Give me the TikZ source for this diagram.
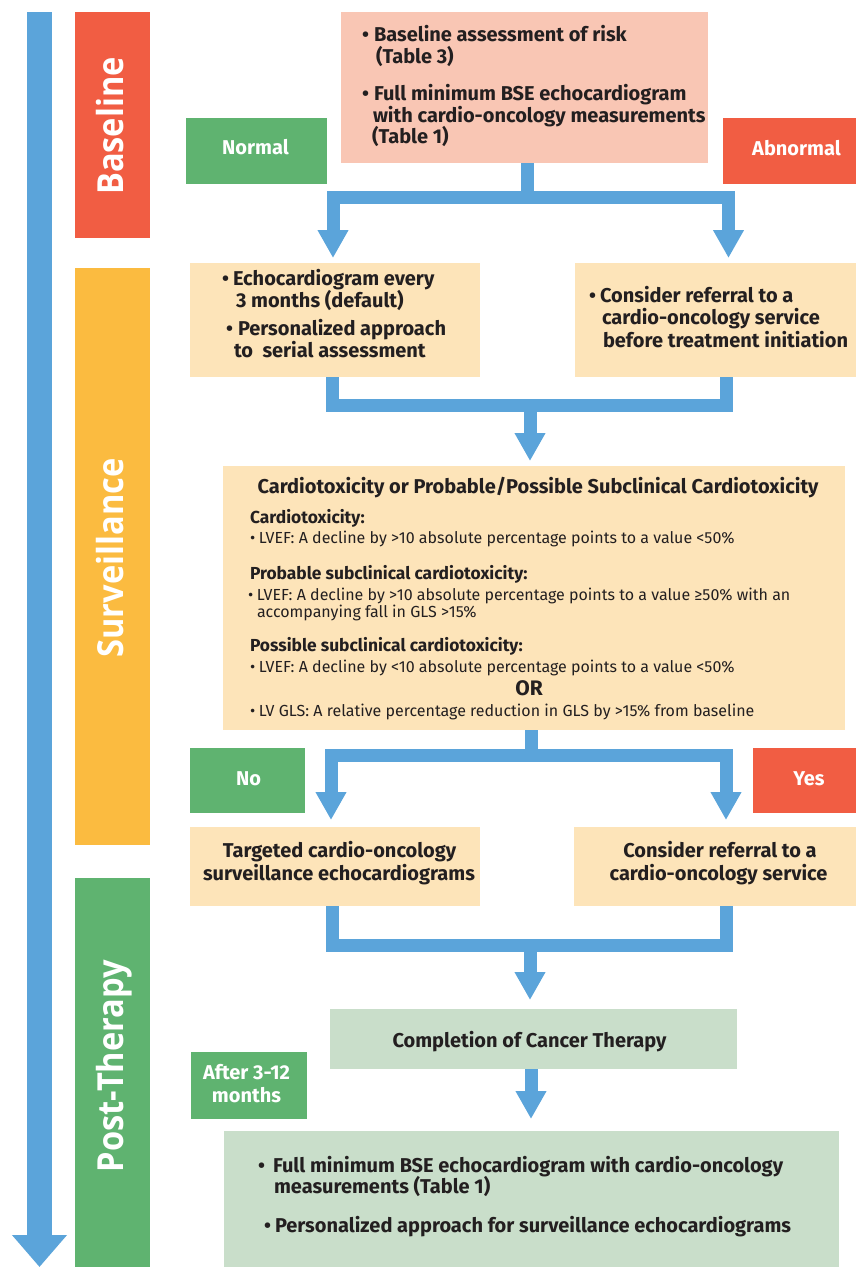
\documentclass[tikz,border=0pt]{standalone}
\usepackage{fontspec}
\usepackage{graphicx}
\setmainfont{Fira Sans}
\newfontfamily\labfont{Open Sans}
\usetikzlibrary{arrows.meta}
\definecolor{cblue}{HTML}{5BA4DA}
\definecolor{cred}{HTML}{F15D43}
\definecolor{cyel}{HTML}{FBBB40}
\definecolor{cgreen}{HTML}{5FB370}
\definecolor{cpink}{HTML}{F9C6B4}
\definecolor{clight}{HTML}{FDE4B9}
\definecolor{cgrey}{HTML}{C9DECA}
\definecolor{ink}{HTML}{231F20}
\newcommand\bul[1][12pt]{\makebox[#1][l]{\textbullet}}
\newcommand\bodyf{\fontsize{20}{22}\selectfont\bfseries}
\newcommand\subf{\fontsize{17.4}{20}\selectfont\bfseries}
\newcommand\smallf{\fontsize{16}{18}\selectfont}
\begin{document}
\begin{tikzpicture}[x=1pt,y=-1pt,
  box/.style={rectangle,draw=none,inner sep=0,outer sep=0},
  tl/.style={inner sep=0,outer sep=0,anchor=base west,text=ink,font=\bodyf},
  tc/.style={inner sep=0,outer sep=0,anchor=base,text=ink,font=\bodyf},
  wc/.style={inner sep=0,outer sep=0,anchor=base,text=white,font=\bodyf},
  sub/.style={tl,font=\subf},
  sm/.style={tl,font=\smallf},
  vlab/.style={inner sep=0,outer sep=0,anchor=base,rotate=90,text=white,font=\labfont\bfseries\fontsize{32.6}{32}\selectfont},
  pipe/.style={draw=cblue,line width=13pt,line join=miter},
  parrow/.style={pipe,-{Triangle[width=29pt,length=28pt]}}
]
\useasboundingbox (0,0) rectangle (856,1267);
% timeline arrow
\coordinate (tl0) at (39.5,12);
\coordinate (tl1) at (39.5,1267);
\draw[draw=cblue,line width=25pt,-{Triangle[width=53pt,length=32pt]}] (tl0) -- (tl1);
% phase labels
\node[box,fill=cred,minimum width=75,minimum height=226] (lblB) at (112.5,125) {};
\node[box,fill=cyel,minimum width=75,minimum height=577] (lblS) at (112.5,556.5) {};
\node[box,fill=cgreen,minimum width=75,minimum height=389] (lblP) at (112.5,1072.5) {};
\node[vlab] (tB) at (123,126) {\scalebox{1}[1.1]{Baseline}};
\node[vlab] (tS) at (123,558) {\scalebox{1}[1.1]{Surveillance}};
\node[vlab] (tP) at (123,1066) {\scalebox{1}[1.1]{Post-Therapy}};
% boxes
\node[box,fill=cpink,minimum width=367,minimum height=151] (top) at (524.5,87.5) {};
\node[box,fill=cgreen,minimum width=141,minimum height=66] (normal) at (256.5,151) {};
\node[box,fill=cred,minimum width=146,minimum height=66] (abn) at (796,151) {};
\node[box,fill=clight,minimum width=290.5,minimum height=114] (s1) at (334.75,320) {};
\node[box,fill=clight,minimum width=281,minimum height=114] (s2) at (715.5,320) {};
\node[box,fill=clight,minimum width=622,minimum height=264] (big) at (534,598) {};
\node[box,fill=cgreen,minimum width=115.5,minimum height=65] (no) at (247.25,780.5) {};
\node[box,fill=cred,minimum width=114,minimum height=65] (yes) at (810,780.5) {};
\node[box,fill=clight,minimum width=290.5,minimum height=79] (t1) at (334.75,866.5) {};
\node[box,fill=clight,minimum width=282,minimum height=79] (t2) at (715,866.5) {};
\node[box,fill=cgrey,minimum width=407,minimum height=60] (comp) at (533.5,1039) {};
\node[box,fill=cgreen,minimum width=116,minimum height=67] (after) at (248.5,1085.5) {};
\node[box,fill=cgrey,minimum width=615,minimum height=136] (final) at (531.5,1199) {};
% connectors
\coordinate (j1) at (527.5,197.5);
\coordinate (e1L) at (333,258);
\coordinate (e1R) at (728.5,258);
\draw[pipe] (top.south -| j1) -- (j1);
\draw[parrow] (j1) -| (e1L);
\draw[parrow] (j1) -| (e1R);
\coordinate (m1L) at (332,405);
\coordinate (m1R) at (726,405);
\coordinate (m1) at (530,405);
\coordinate (e2) at (530,461);
\draw[pipe] (s1.south -| m1L) -- (m1L) -- (m1R) -- (s2.south -| m1R);
\draw[parrow] (m1) -- (e2);
\coordinate (j2) at (531,755.5);
\coordinate (e3L) at (331,820);
\coordinate (e3R) at (726,820);
\draw[pipe] (big.south -| j2) -- (j2);
\draw[parrow] (j2) -| (e3L);
\draw[parrow] (j2) -| (e3R);
\coordinate (m2L) at (332,945);
\coordinate (m2R) at (726,945);
\coordinate (m2) at (530,945);
\coordinate (e4) at (530,1000);
\draw[pipe] (t1.south -| m2L) -- (m2L) -- (m2R) -- (t2.south -| m2R);
\draw[parrow] (m2) -- (e4);
\coordinate (e5) at (531,1119);
\draw[parrow] (comp.south -| e5) -- (e5);
% texts: top box
\node[tl] (b1) at (362,41) {\bul Baseline assessment of risk};
\node[tl] (b2) at (376,63) {(Table 3)};
\node[tl] (b3) at (362,100) {\bul Full minimum BSE echocardiogram};
\node[tl] (b4) at (373,122) {with cardio-oncology measurements};
\node[tl] (b5) at (372,143) {(Table 1)};
\node[wc] (tn) at (255.5,154) {Normal};
\node[wc] (ta) at (796.5,155) {Abnormal};
% surveillance row 1
\node[tl] (l1) at (222,285) {\bul[11pt]Echocardiogram every};
\node[tl] (l2) at (236,307) {3 months (default)};
\node[tl] (l3) at (226,335) {\bul[12pt]Personalized approach};
\node[tl] (l4) at (234,357) {to\ \ serial assessment};
\node[tl] (r1) at (589,302) {\bul[11pt]Consider referral to a};
\node[tl] (r2) at (602,324) {cardio-oncology service};
\node[tl] (r3) at (603,347) {before treatment initiation};
% big box
\node[tc] (h0) at (538,493) {Cardiotoxicity or Probable/Possible Subclinical Cardiotoxicity};
\node[sub] (h1) at (250,523) {Cardiotoxicity:};
\node[sm] (h2) at (250,543) {\bul[9pt]LVEF: A decline by >10 absolute percentage points to a value <50\%};
\node[sub] (h3) at (250,579) {Probable subclinical cardiotoxicity:};
\node[sm] (h4) at (248,600) {\bul[9pt]LVEF: A decline by >10 absolute percentage points to a value ≥50\% with an};
\node[sm] (h5) at (257,617) {accompanying fall in GLS >15\%};
\node[sub] (h6) at (250,651) {Possible subclinical cardiotoxicity:};
\node[sm] (h7) at (250,672) {\bul[9pt]LVEF: A decline by <10 absolute percentage points to a value <50\%};
\node[tc,font=\fontsize{21}{21}\selectfont\bfseries] (h8) at (529,695) {OR};
\node[sm] (h9) at (250,716) {\bul[9pt]LV GLS: A relative percentage reduction in GLS by >15\% from baseline};
% no / yes
\node[wc] (tno) at (248.5,785) {No};
\node[wc] (tyes) at (809,785) {Yes};
\node[tc] (t1a) at (339.5,857) {Targeted cardio-oncology};
\node[tc] (t1b) at (339,880) {surveillance echocardiograms};
\node[tc] (t2a) at (720,857) {Consider referral to a};
\node[tc] (t2b) at (718.5,880) {cardio-oncology service};
% post therapy
\node[tc] (tc1) at (529.5,1047) {Completion of Cancer Therapy};
\node[wc] (ta1) at (246.5,1079) {After 3-12};
\node[wc] (ta2) at (246.5,1102) {months};
\node[tl] (f1) at (258,1172) {\bul[15pt]Full minimum BSE echocardiogram with cardio-oncology};
\node[tl] (f2) at (274,1193) {measurements (Table 1)};
\node[tl] (f3) at (264,1232) {\bul[11pt]Personalized approach for surveillance echocardiograms};
\end{tikzpicture}
\end{document}
